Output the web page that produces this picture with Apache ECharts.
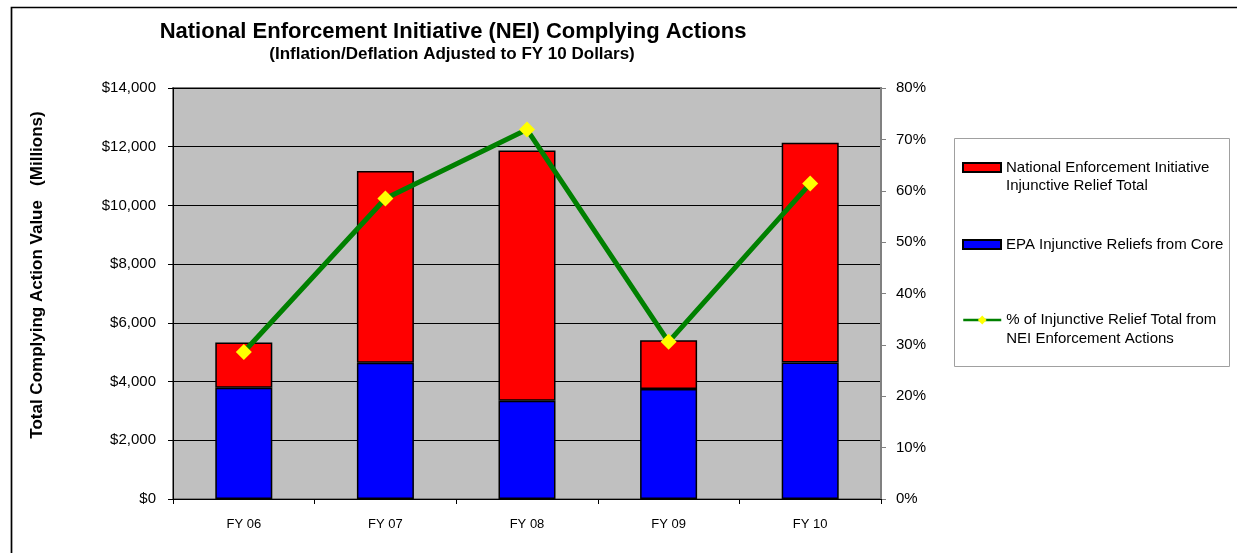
<!DOCTYPE html>
<html>
<head>
<meta charset="utf-8">
<script src="https://cdn.jsdelivr.net/npm/echarts@6/dist/echarts.min.js"></script>
<style>
html,body{margin:0;padding:0;background:#fff;}
#chart{width:1237px;height:553px;}
</style>
</head>
<body>
<div id="chart"></div>
<script>
var categories = ['FY 06', 'FY 07', 'FY 08', 'FY 09', 'FY 10'];
var coreValues = [3790, 4640, 3345, 3750, 4650];
var neiValues = [1540, 6530, 8530, 1660, 7485];
var pctValues = [28.6, 58.5, 71.9, 30.6, 61.4];
var leftTicks = {min: 0, max: 14000, interval: 2000};
var rightTicks = {min: 0, max: 80, interval: 10};

var NAME_NEI = 'National Enforcement Initiative\nInjunctive Relief Total';
var NAME_CORE = 'EPA Injunctive Reliefs from Core';
var NAME_PCT = '% of Injunctive Relief Total from\nNEI Enforcement Actions';

var FONT = 'Liberation Sans, Arial, sans-serif';
var chart = echarts.init(document.getElementById('chart'));

function legendFor(name, top, twoLine, icon) {
  var item = {name: name};
  if (icon) item.icon = icon;
  var lg = {
    data: [item],
    left: 962, top: top, orient: 'vertical', padding: 0,
    itemWidth: 38, itemHeight: 9, itemGap: 0,
    selectedMode: false,
    formatter: twoLine ? function (n) { return '\n' + n; } : '{name}',
    textStyle: {fontFamily: FONT, fontSize: 15, color: '#000', lineHeight: 18.5}
  };
  if (!icon) {
    lg.itemHeight = 11;
    lg.lineStyle = {width: 2.5, color: '#008000'};
  }
  return lg;
}

chart.setOption({
  animation: false,
  backgroundColor: '#fff',
  textStyle: {fontFamily: FONT},
  title: [{
    text: 'National Enforcement Initiative (NEI) Complying Actions',
    left: 453, top: 21, textAlign: 'center', padding: 0,
    textStyle: {fontFamily: FONT, fontSize: 22, fontWeight: 'bold', color: '#000'}
  }, {
    text: '(Inflation/Deflation Adjusted to FY 10 Dollars)',
    left: 452, top: 46, textAlign: 'center', padding: 0,
    textStyle: {fontFamily: FONT, fontSize: 17, fontWeight: 'bold', color: '#000'}
  }],
  graphic: [{
    type: 'rect', silent: true, z: -1,
    shape: {x: 11.5, y: 7.5, width: 1260, height: 600},
    style: {fill: 'none', stroke: '#000', lineWidth: 1.7}
  }, {
    type: 'rect', silent: true, z: -1,
    shape: {x: 954.5, y: 138.5, width: 275, height: 228},
    style: {fill: '#fff', stroke: '#a0a0a0', lineWidth: 1}
  }],
  legend: [
    legendFor(NAME_NEI, 139.75, true, 'rect'),
    legendFor(NAME_CORE, 235.25, false, 'rect'),
    legendFor(NAME_PCT, 292.25, true, null)
  ],
  grid: {
    left: 173, right: 356, top: 88, bottom: 54,
    show: true, backgroundColor: '#c0c0c0', borderColor: '#808080', borderWidth: 2
  },
  xAxis: {
    type: 'category', data: categories,
    axisLine: {lineStyle: {color: '#000', width: 1}},
    axisTick: {show: true, length: 5, alignWithLabel: false, lineStyle: {color: '#000'}},
    axisLabel: {color: '#000', fontSize: 13, fontFamily: FONT, margin: 19}
  },
  yAxis: [{
    type: 'value', min: leftTicks.min, max: leftTicks.max, interval: leftTicks.interval,
    name: 'Total Complying Action Value   (Millions)',
    nameLocation: 'middle', nameGap: 127, nameRotate: 90,
    nameTextStyle: {fontFamily: FONT, fontSize: 17, fontWeight: 'bold', color: '#000',
      padding: [0, 0, 0, 37]},
    axisLine: {show: true, lineStyle: {color: '#000', width: 1}},
    axisTick: {show: true, length: 5, lineStyle: {color: '#000'}},
    axisLabel: {color: '#000', fontSize: 15, fontFamily: FONT, margin: 17,
      formatter: function (v) { return '$' + v.toLocaleString('en-US'); }},
    splitLine: {show: true, lineStyle: {color: '#000', width: 1}}
  }, {
    type: 'value', min: rightTicks.min, max: rightTicks.max, interval: rightTicks.interval,
    position: 'right',
    axisLine: {show: true, lineStyle: {color: '#808080', width: 2}},
    axisTick: {show: true, length: 5, lineStyle: {color: '#808080'}},
    axisLabel: {color: '#000', fontSize: 15, fontFamily: FONT, margin: 15, formatter: '{value}%'},
    splitLine: {show: false}
  }],
  series: [{
    name: NAME_CORE, type: 'bar', stack: 'total', data: coreValues,
    barWidth: 57,
    itemStyle: {color: '#0000ff', borderColor: '#000', borderWidth: 1.5}
  }, {
    name: NAME_NEI, type: 'bar', stack: 'total', data: neiValues,
    barWidth: 57,
    itemStyle: {color: '#ff0000', borderColor: '#000', borderWidth: 1.5}
  }, {
    name: NAME_PCT, type: 'line', yAxisIndex: 1, data: pctValues,
    symbol: 'diamond', symbolSize: 16,
    lineStyle: {color: '#008000', width: 5},
    itemStyle: {color: '#ffff00', borderWidth: 0},
    z: 5
  }]
});
</script>
</body>
</html>
